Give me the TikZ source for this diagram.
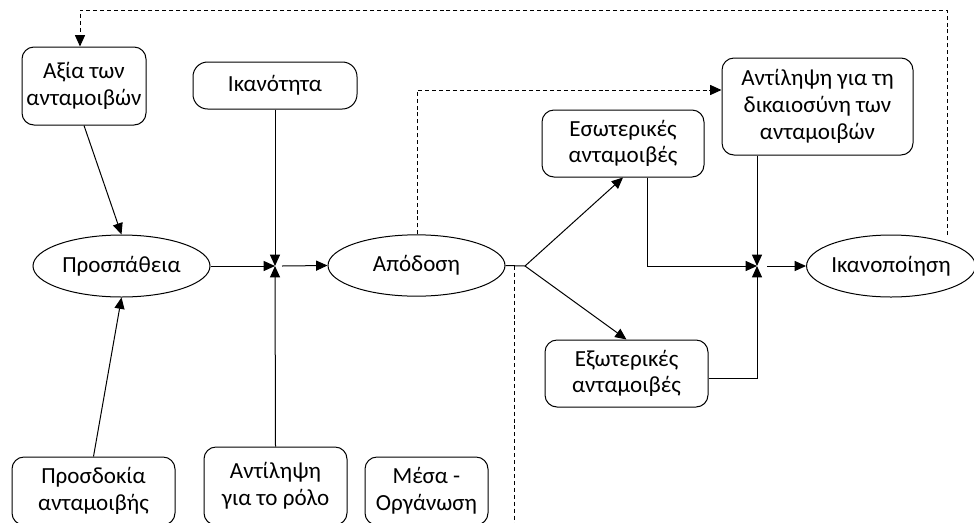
\documentclass[tikz,border=0pt]{standalone}
\usepackage{fontspec}
\setmainfont{Carlito}
\usetikzlibrary{shapes.geometric,arrows.meta}
\begin{document}
\begin{tikzpicture}[x=0.75pt,y=-0.75pt,
  every node/.style={font=\fontsize{17.3}{20}\selectfont, align=center, inner sep=0pt},
  rbox/.style={draw, rounded corners=9pt, line width=0.75pt},
  ell/.style={draw, ellipse, line width=0.75pt},
  conn/.style={line width=0.75pt},
  arr/.style={conn, -{Triangle[length=8.5pt,width=7.5pt]}},
  darr/.style={arr, dash pattern=on 3pt off 2.2pt},
  dline/.style={conn, dash pattern=on 3pt off 2.2pt}]
\useasboundingbox (0,0) rectangle (974,522);
\clip (0,0) rectangle (974,522);
% boxes
\node[rbox, minimum width=93pt, minimum height=58.5pt] (aksia) at (84,86) {Αξία των\\ανταμοιβών};
\node[rbox, rounded corners=11pt, minimum width=123pt, minimum height=35.25pt] (ikan) at (275,85.5) {Ικανότητα};
\node[rbox, minimum width=143.25pt, minimum height=72.75pt] (dik) at (817.5,106.5) {Αντίληψη για τη\\δικαιοσύνη των\\ανταμοιβών};
\node[rbox, minimum width=121.5pt, minimum height=50.25pt] (eso) at (623,143.5) {Εσωτερικές\\ανταμοιβές};
\node[rbox, minimum width=122.25pt, minimum height=50.25pt] (exo) at (626.5,373.5) {Εξωτερικές\\ανταμοιβές};
\node[rbox, minimum width=122.25pt, minimum height=51pt] (prosd) at (93.5,491) {Προσδοκία\\ανταμοιβής};
\node[rbox, minimum width=107.25pt, minimum height=58.5pt] (rolos) at (275.5,486) {Αντίληψη\\για το ρόλο};
\node[rbox, minimum width=92.25pt, minimum height=51pt] (mesa) at (426.5,491) {Μέσα -\\Οργάνωση};
% ellipses
\node[ell, minimum width=132.75pt, minimum height=46.5pt] (prosp) at (121.5,266) {Προσπάθεια};
\node[ell, minimum width=132.75pt, minimum height=46pt] (apod) at (416.5,265.5) {Απόδοση};
\node[ell, minimum width=124.5pt, minimum height=46.5pt] (ikanop) at (891,266) {Ικανοποίηση};
% coordinates
\coordinate (j1) at (275,266);
\coordinate (j1o) at (282,266);
\coordinate (br) at (525,266);
\coordinate (j2) at (757,266);
\coordinate (j2o) at (767,266);
\coordinate (ea) at (647,0);
\coordinate (ex) at (757,378);
\coordinate (c1) at (80,10);
\coordinate (c2) at (947,10);
\coordinate (c3) at (417,90);
\coordinate (d1) at (514,266);
\coordinate (d2) at (514,530);
% solid connectors
\draw[arr] (aksia.south) -- (prosp.north);
\draw[arr] (prosd.north) -- (prosp.south);
\draw[arr] (prosp.east) -- (j1);
\draw[arr] (ikan.south) -- (j1);
\draw[arr] (rolos.north) -- (j1);
\draw[arr] (j1o) -- (apod.west);
\draw[conn] (apod.east) -- (br);
\draw[arr] (br) -- (eso.south);
\draw[arr] (br) -- (exo.north);
\draw[arr] (ea |- eso.south) |- (j2);
\draw[arr] (j2 |- dik.south) -- (j2);
\draw[arr] (ex -| exo.east) -- (ex) -- (j2);
\draw[arr] (j2o) -- (ikanop.west);
% dashed connectors
\draw[darr] (ikanop.north -| c2) -- (c2) -- (c1) -- (c1 |- aksia.north);
\draw[darr] (c3 |- apod.north) -- (c3) -- (c3 -| dik.west);
\draw[dline] (d1) -- (d2);
\end{tikzpicture}
\end{document}
